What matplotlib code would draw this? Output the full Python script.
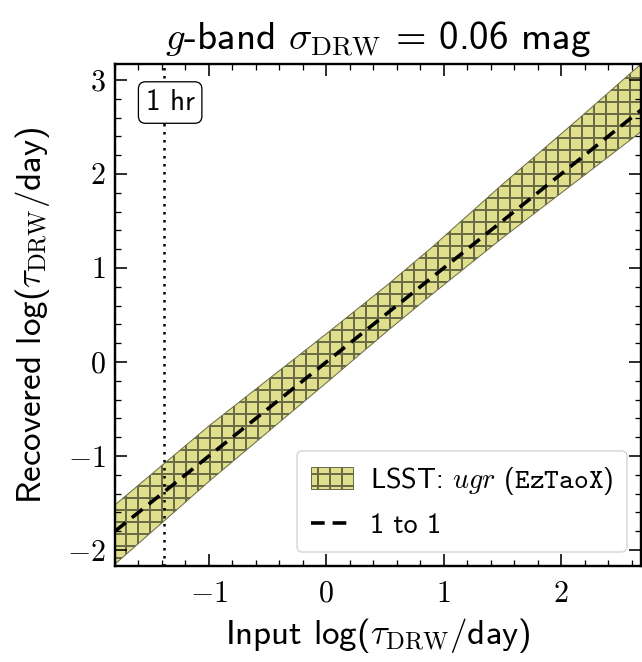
import numpy as np
import matplotlib
matplotlib.use("Agg")
import matplotlib.pyplot as plt
from matplotlib.ticker import MultipleLocator, FuncFormatter

plt.rcParams['font.family'] = ['cmss10', 'DejaVu Sans']
plt.rcParams['mathtext.fontset'] = 'cm'
plt.rcParams['axes.unicode_minus'] = False
plt.rcParams['hatch.linewidth'] = 2.0
plt.rcParams['hatch.color'] = '#6b6b45'

# Data
input_log_tau = [-1.80, -0.99, 0.03, 0.52, 0.89, 1.5, 2.17, 2.68]
recovered_lower = [-2.15, -1.26, -0.19, 0.33, 0.71, 1.32, 1.96, 2.45]
recovered_upper = [-1.52, -0.67, 0.33, 0.82, 1.21, 1.89, 2.61, 3.17]
one_to_one = [-1.80, 2.68]
one_hr = np.log10(1 / 24)

fig = plt.figure(figsize=(642 / 72, 662 / 72), dpi=72)
ax = fig.add_axes([115 / 642, 1 - 566 / 662, 526 / 642, 502 / 662])

ax.fill_between(input_log_tau, recovered_lower, recovered_upper,
                facecolor='#dfdf8e', edgecolor='#6b6b45', hatch='+',
                linewidth=1.0, label=r'LSST: $ugr$ ($\mathtt{EzTaoX}$)')
ax.plot(one_to_one, one_to_one, 'k--', lw=3.6, dashes=(3.8, 2.2), label='1 to 1')
ax.axvline(one_hr, color='k', lw=2.5, dashes=(1, 2.2))
ax.text(one_hr + 0.05, 2.76, '1 hr', fontsize=29, ha='center', va='center',
        bbox=dict(boxstyle='round,pad=0.25', fc='white', ec='black', lw=1.3))

ax.set_xlim(-1.80, 2.68)
ax.set_ylim(-2.17, 3.17)

ax.xaxis.set_major_locator(MultipleLocator(1))
ax.yaxis.set_major_locator(MultipleLocator(1))
ax.xaxis.set_minor_locator(MultipleLocator(0.2))
ax.yaxis.set_minor_locator(MultipleLocator(0.2))
fmt = FuncFormatter(lambda v, p: r'$%d$' % round(v))
ax.xaxis.set_major_formatter(fmt)
ax.yaxis.set_major_formatter(fmt)
ax.tick_params(which='both', direction='in', top=True, right=True, labelsize=30)
ax.tick_params(which='major', length=12, width=1.6)
ax.tick_params(axis='x', which='major', pad=15)
ax.tick_params(axis='y', which='major', pad=9)
ax.tick_params(which='minor', length=6, width=1.3)
for s in ax.spines.values():
    s.set_linewidth(2.4)

ax.set_xlabel(r'Input log($\tau_{\rm DRW}$/day)', fontsize=35, labelpad=8)
ax.set_ylabel(r'Recovered log($\tau_{\rm DRW}$/day)', fontsize=35, labelpad=15)
ax.set_title(r'$g$-band $\sigma_{\rm DRW}$ = 0.06 mag', fontsize=39, pad=15)

leg = ax.legend(loc='lower right', fontsize=28, handlelength=1.5,
                handleheight=0.85, fancybox=True, framealpha=1,
                edgecolor='#d8d8d8', borderpad=0.5, labelspacing=0.55,
                borderaxespad=0.5, handletextpad=0.6)
leg.get_frame().set_linewidth(1.5)

fig.savefig('out.png', dpi=72)
